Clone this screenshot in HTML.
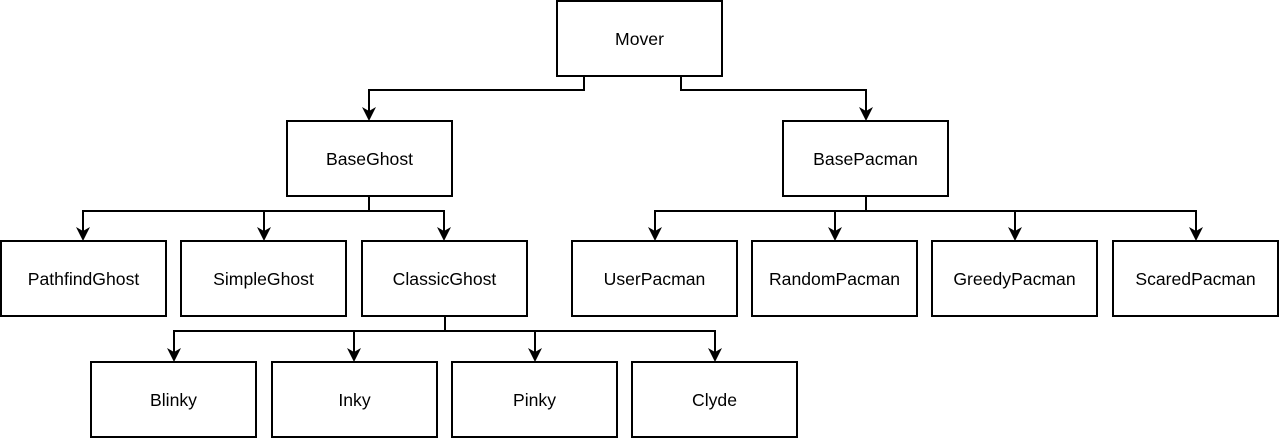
<!DOCTYPE html>
<html><head><style>html,body{margin:0;padding:0;background:#fff;width:1280px;height:439px;overflow:hidden}</style></head>
<body>
<svg width="1280" height="439" xmlns="http://www.w3.org/2000/svg" font-family="Liberation Sans, Arial, sans-serif" font-size="17.6">
<g fill="none" stroke="#000" stroke-width="2">
<path d="M584 76V90H369V119"/>
<path d="M681 76V90H866V119"/>
<path d="M369 196V211H83V239"/><path d="M369 211H444V239"/><path d="M264 211V239"/>
<path d="M866 196V211H655V239"/><path d="M866 211H1196V239"/><path d="M835 211V239"/><path d="M1015 211V239"/>
<path d="M445 316V331H174V360"/><path d="M445 331H715V360"/><path d="M354 331V360"/><path d="M535 331V360"/>
</g>
<g fill="#000">
<path d="M362 107L369 121L376 107L369 111Z"/><path d="M859 107L866 121L873 107L866 111Z"/>
<path d="M76 227L83 241L90 227L83 231Z"/><path d="M257 227L264 241L271 227L264 231Z"/><path d="M437 227L444 241L451 227L444 231Z"/>
<path d="M648 227L655 241L662 227L655 231Z"/><path d="M828 227L835 241L842 227L835 231Z"/><path d="M1008 227L1015 241L1022 227L1015 231Z"/><path d="M1189 227L1196 241L1203 227L1196 231Z"/>
<path d="M167 348L174 362L181 348L174 352Z"/><path d="M347 348L354 362L361 348L354 352Z"/><path d="M528 348L535 362L542 348L535 352Z"/><path d="M708 348L715 362L722 348L715 352Z"/>
</g>
<g fill="#fff" stroke="#000" stroke-width="2">
<rect x="557" y="1" width="165" height="75"/>
<rect x="287" y="121" width="165" height="75"/>
<rect x="783" y="121" width="165" height="75"/>
<rect x="1" y="241" width="165" height="75"/>
<rect x="181" y="241" width="165" height="75"/>
<rect x="362" y="241" width="165" height="75"/>
<rect x="572" y="241" width="165" height="75"/>
<rect x="752" y="241" width="165" height="75"/>
<rect x="932" y="241" width="165" height="75"/>
<rect x="1113" y="241" width="165" height="75"/>
<rect x="91" y="362" width="165" height="75"/>
<rect x="272" y="362" width="165" height="75"/>
<rect x="452" y="362" width="165" height="75"/>
<rect x="632" y="362" width="165" height="75"/>
</g>
<g text-anchor="middle" fill="#000">
<text x="639.5" y="45">Mover</text>
<text x="369.5" y="165">BaseGhost</text>
<text x="865.5" y="165">BasePacman</text>
<text x="83.5" y="285">PathfindGhost</text>
<text x="263.5" y="285">SimpleGhost</text>
<text x="444.5" y="285">ClassicGhost</text>
<text x="654.5" y="285">UserPacman</text>
<text x="834.5" y="285">RandomPacman</text>
<text x="1014.5" y="285">GreedyPacman</text>
<text x="1195.5" y="285">ScaredPacman</text>
<text x="173.5" y="406">Blinky</text>
<text x="354.5" y="406">Inky</text>
<text x="534.5" y="406">Pinky</text>
<text x="714.5" y="406">Clyde</text>
</g>
</svg>
</body></html>
